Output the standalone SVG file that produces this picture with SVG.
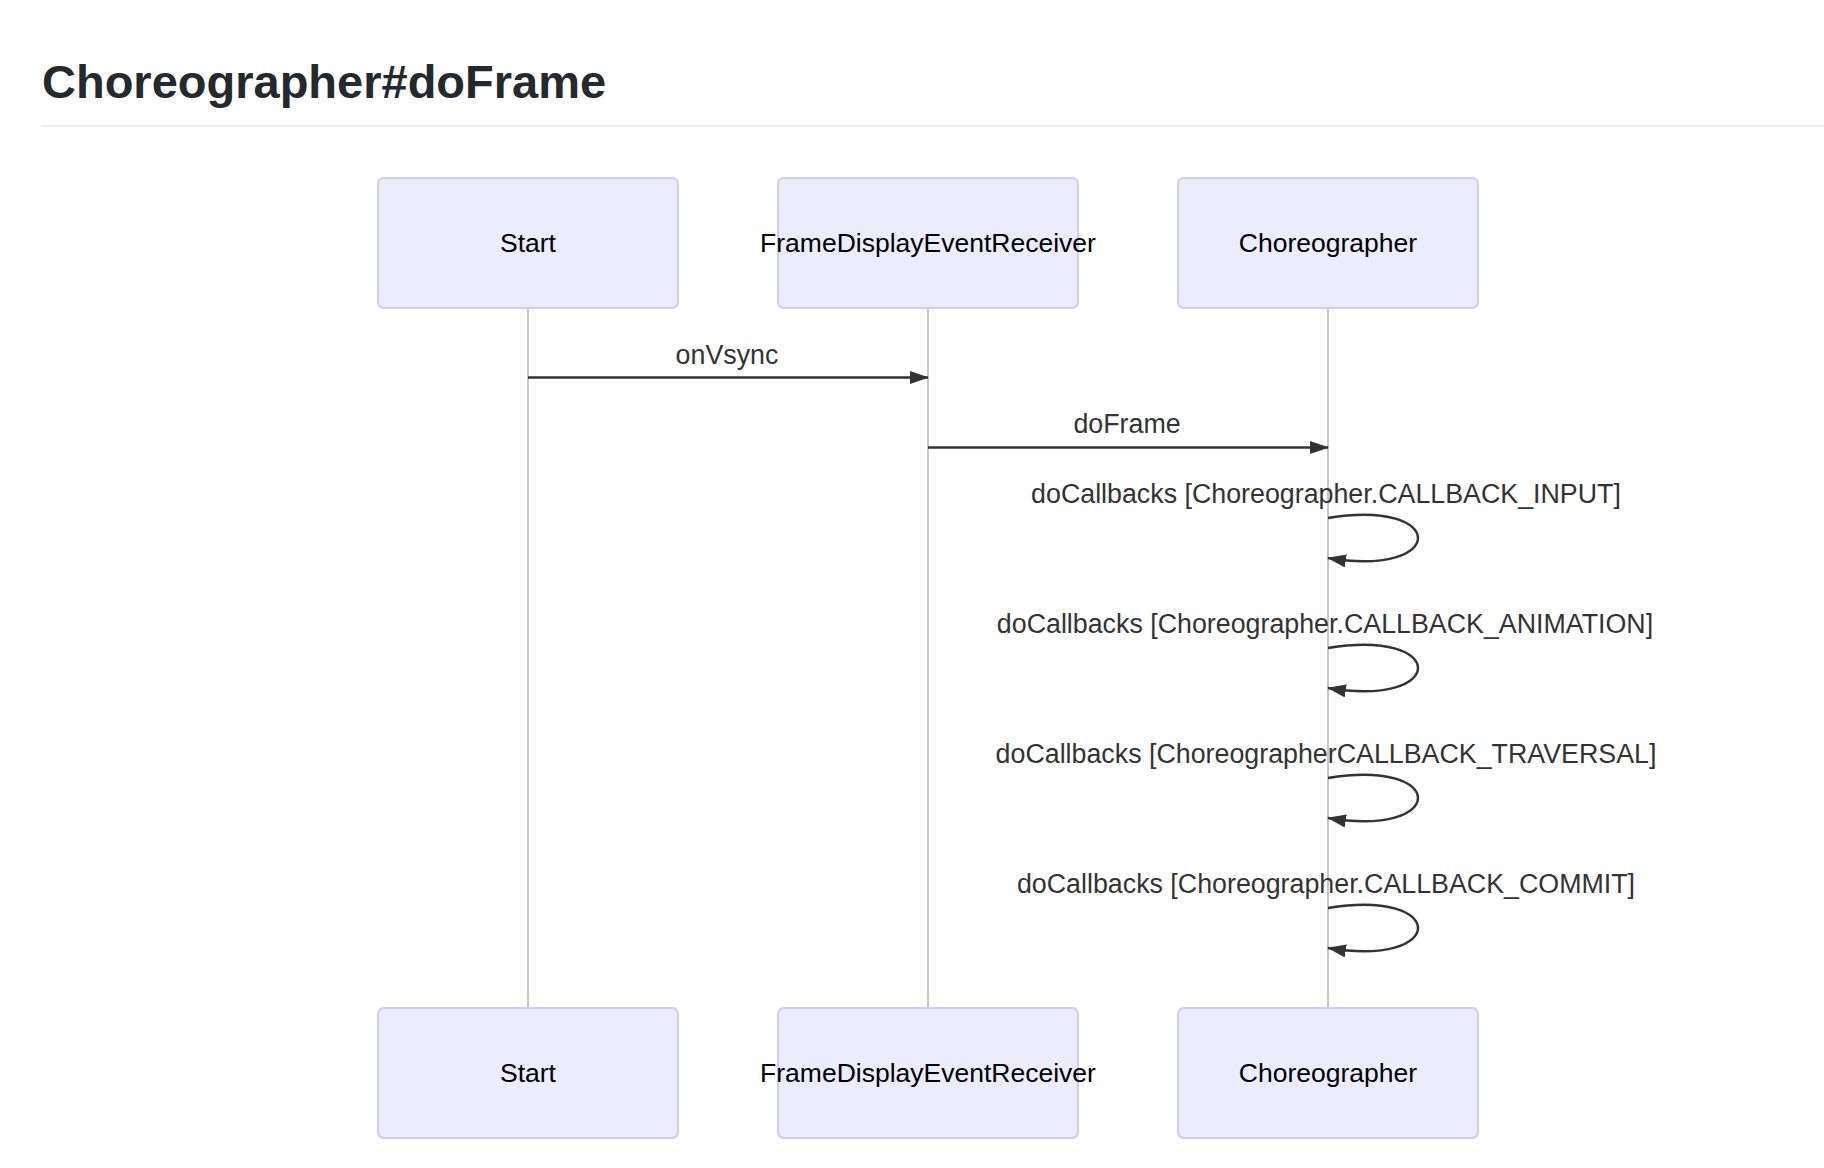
<svg xmlns="http://www.w3.org/2000/svg" width="1824" height="1168" viewBox="0 0 1824 1168">
<defs>
<style>
.actor{fill:#ECECFF;stroke:#CCCCFF;stroke-width:2}
.atext{font-family:"Liberation Sans",Arial,sans-serif;font-size:26.5px;fill:#000;text-anchor:middle}
.life{stroke:#b0b0b0;stroke-width:1.4;fill:none}
.msg{stroke:#333;stroke-width:2.5;fill:none}
.mtext{font-family:"Liberation Sans",Arial,sans-serif;font-size:26.8px;fill:#333;text-anchor:middle}
.title{font-family:"Liberation Sans",Arial,sans-serif;font-size:47px;font-weight:bold;fill:#24292e}
</style>
<marker id="arrow" markerUnits="userSpaceOnUse" markerWidth="22" markerHeight="16" refX="18" refY="6.5" orient="auto" viewBox="0 0 22 16">
<path d="M0,0 L19,6.5 L0,13 z" fill="#333"/>
</marker>
</defs>
<rect x="0" y="0" width="1824" height="1168" fill="#fff"/>
<text class="title" x="42" y="98">Choreographer#doFrame</text>
<rect x="42" y="125" width="1782" height="2" fill="#eaecef"/>

<g id="lifelines">
<line class="life" x1="528" y1="308" x2="528" y2="1008"/>
<line class="life" x1="928" y1="308" x2="928" y2="1008"/>
<line class="life" x1="1328" y1="308" x2="1328" y2="1008"/>
</g>

<g id="node-start-top"><rect class="actor" x="378" y="178" width="300" height="130" rx="6"/><text class="atext" x="528" y="251.5">Start</text></g>
<g id="node-receiver-top"><rect class="actor" x="778" y="178" width="300" height="130" rx="6"/><text class="atext" x="928" y="251.5">FrameDisplayEventReceiver</text></g>
<g id="node-choreo-top"><rect class="actor" x="1178" y="178" width="300" height="130" rx="6"/><text class="atext" x="1328" y="251.5">Choreographer</text></g>
<g id="node-start-bottom"><rect class="actor" x="378" y="1008" width="300" height="130" rx="6"/><text class="atext" x="528" y="1081.5">Start</text></g>
<g id="node-receiver-bottom"><rect class="actor" x="778" y="1008" width="300" height="130" rx="6"/><text class="atext" x="928" y="1081.5">FrameDisplayEventReceiver</text></g>
<g id="node-choreo-bottom"><rect class="actor" x="1178" y="1008" width="300" height="130" rx="6"/><text class="atext" x="1328" y="1081.5">Choreographer</text></g>

<g id="connectors">
<line class="msg" x1="528" y1="377.5" x2="928" y2="377.5" marker-end="url(#arrow)"/>
<text class="mtext" x="727" y="364">onVsync</text>
<line class="msg" x1="928" y1="447.5" x2="1328" y2="447.5" marker-end="url(#arrow)"/>
<text class="mtext" x="1127" y="433">doFrame</text>
<text class="mtext" x="1326" y="503">doCallbacks [Choreographer.CALLBACK_INPUT]</text>
<path class="msg" d="M1328,518 C1448,498 1448,578 1328,558" marker-end="url(#arrow)"/>
<text class="mtext" x="1325" y="633">doCallbacks [Choreographer.CALLBACK_ANIMATION]</text>
<path class="msg" d="M1328,648 C1448,628 1448,708 1328,688" marker-end="url(#arrow)"/>
<text class="mtext" x="1326" y="763">doCallbacks [ChoreographerCALLBACK_TRAVERSAL]</text>
<path class="msg" d="M1328,778 C1448,758 1448,838 1328,818" marker-end="url(#arrow)"/>
<text class="mtext" x="1326" y="893">doCallbacks [Choreographer.CALLBACK_COMMIT]</text>
<path class="msg" d="M1328,908 C1448,888 1448,968 1328,948" marker-end="url(#arrow)"/>
</g>
</svg>
